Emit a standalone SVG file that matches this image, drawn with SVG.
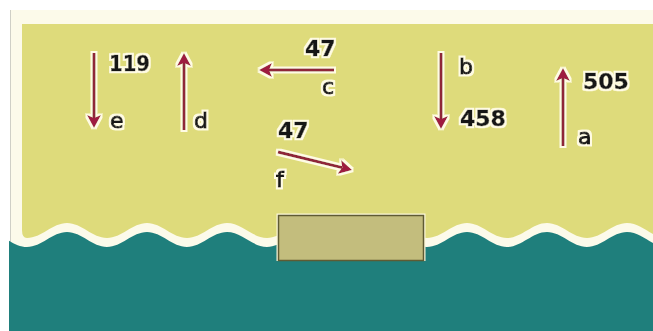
<svg xmlns="http://www.w3.org/2000/svg" width="653" height="331" viewBox="0 0 653 331">
<defs>
<style>
.num{font-family:"DejaVu Sans","Liberation Sans",sans-serif;font-weight:bold;font-size:22px;fill:#141414;stroke:#141414;stroke-width:0.5}
.let{font-family:"DejaVu Sans","Liberation Sans",sans-serif;font-size:22px;fill:#141414;stroke:#141414;stroke-width:1}
.shaft{fill:none;stroke:#8F2538;stroke-width:3;marker-end:url(#ah)}
</style>
<marker id="ah" markerUnits="userSpaceOnUse" markerWidth="15" markerHeight="15" viewBox="0 -7.5 15 15" refX="3" refY="0" orient="auto">
<path d="M0,-7 L13,0 L0,7 L3,0 Z" fill="#9E1A40"/>
</marker>
<filter id="halo" filterUnits="userSpaceOnUse" x="0" y="0" width="653" height="331">
<feMorphology in="SourceAlpha" operator="dilate" radius="1.6" result="d"/>
<feFlood flood-color="#FFFBE4"/>
<feComposite in2="d" operator="in" result="h"/>
<feMerge><feMergeNode in="h"/><feMergeNode in="SourceGraphic"/></feMerge>
</filter>
<clipPath id="sea"><rect x="9" y="0" width="644" height="331"/></clipPath>
</defs>

<g id="background">
<rect x="0" y="0" width="653" height="331" fill="#FFFFFF"/>
<rect x="11" y="10" width="642" height="250" fill="#FCFAEA"/>
<line x1="10.5" y1="10" x2="10.5" y2="245" stroke="#CFCFC6" stroke-width="1"/>
<path id="land" fill="#DEDB7B" d="M22,24 L667,24 L667,238 C652.4,238 641.6,223 627,223 S601.6,238 587,238 S561.6,223 547,223 S521.6,238 507,238 S481.6,223 467,223 S441.6,238 427,238 S401.6,223 387,223 S361.6,238 347,238 S321.6,223 307,223 S281.6,238 267,238 S241.6,223 227,223 S201.6,238 187,238 S161.6,223 147,223 S121.6,238 107,238 S81.6,223 67,223 S41.6,238 27,238 Q22,238 22,230 Z"/>
<path id="water" clip-path="url(#sea)" fill="#1F7F7C" d="M-13,232 C1.6,232 12.4,247 27,247 S52.4,232 67,232 S92.4,247 107,247 S132.4,232 147,232 S172.4,247 187,247 S212.4,232 227,232 S252.4,247 267,247 S292.4,232 307,232 S332.4,247 347,247 S372.4,232 387,232 S412.4,247 427,247 S452.4,232 467,232 S492.4,247 507,247 S532.4,232 547,232 S572.4,247 587,247 S612.4,232 627,232 S652.4,247 667,247 L667,331 L-13,331 Z"/>
</g>

<g id="box">
<rect x="276.5" y="213.5" width="149" height="47.5" fill="#FBF7D8"/>
<rect x="278.5" y="215.5" width="145" height="45" fill="#C3BD7D" stroke="#5F5B33" stroke-width="1.5"/>
</g>

<g id="connectors" filter="url(#halo)">
<path id="arrow-e" class="shaft" d="M94,53 L94,118"/>
<path id="arrow-d" class="shaft" d="M184,130 L184,63"/>
<path id="arrow-c" class="shaft" d="M334,70 L269,70"/>
<path id="arrow-f" class="shaft" d="M278,152 L342.3,167.6"/>
<path id="arrow-b" class="shaft" d="M441,53 L441,119"/>
<path id="arrow-a" class="shaft" d="M563,146 L563,78"/>
</g>

<g id="labels" filter="url(#halo)">
<g id="label-e"><text class="num" x="109" y="71" textLength="41" lengthAdjust="spacingAndGlyphs">119</text><text class="let" x="110" y="128">e</text></g>
<g id="label-d"><text class="let" x="194" y="128">d</text></g>
<g id="label-c"><text class="num" x="305" y="56">47</text><text class="let" x="322" y="94">c</text></g>
<g id="label-f"><text class="num" x="278" y="138">47</text><text class="let" x="276" y="187">f</text></g>
<g id="label-b"><text class="let" x="459" y="74">b</text><text class="num" x="460" y="126">458</text></g>
<g id="label-a"><text class="num" x="583" y="89">505</text><text class="let" x="578" y="144">a</text></g>
</g>
</svg>
